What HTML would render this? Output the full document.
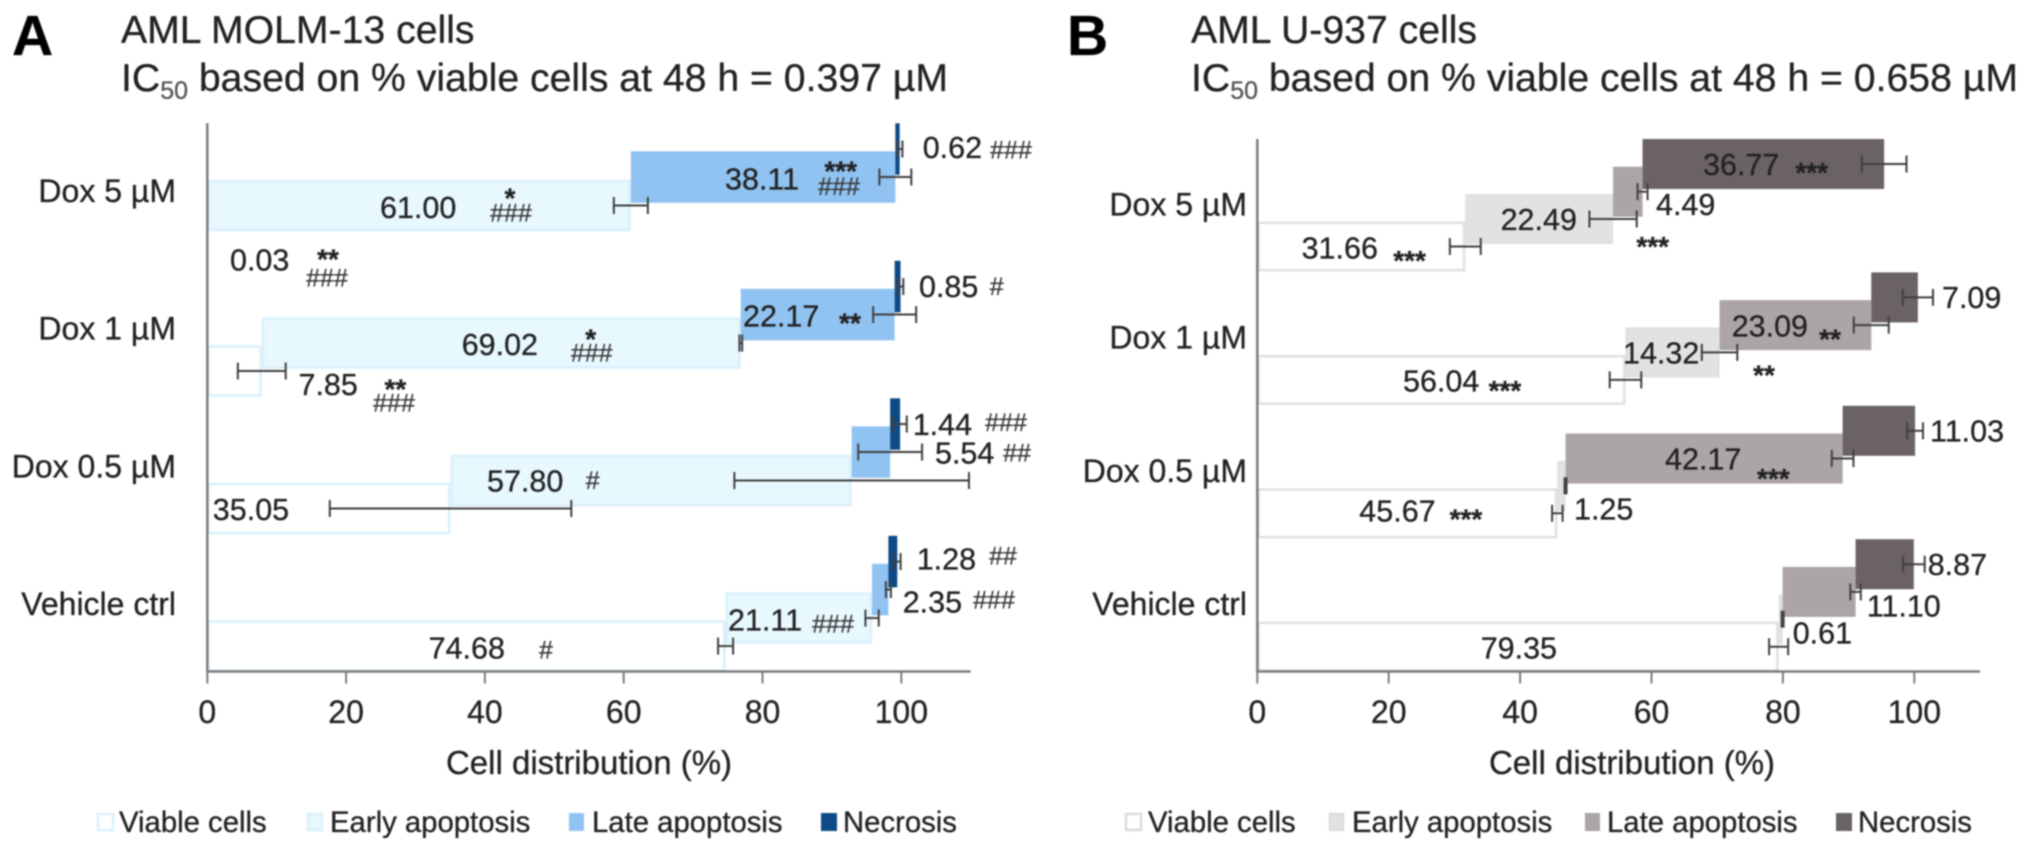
<!DOCTYPE html>
<html lang="en">
<head>
<meta charset="utf-8">
<title>AML cell distribution after Dox treatment</title>
<style>
html,body{margin:0;padding:0;background:#fff;width:2031px;height:854px;overflow:hidden}
svg{display:block;filter:blur(.7px)}
text{font-family:"Liberation Sans",Arial,sans-serif;fill:#222;stroke:#222;stroke-width:.3px}
</style>
</head>
<body>
<svg id="chart" xmlns="http://www.w3.org/2000/svg" width="2031" height="854" viewBox="0 0 2031 854">
  <rect width="2031" height="854" fill="#fff"/>

  <text x="12" y="55" font-size="57" font-weight="bold" style="fill:#000">A</text>
  <text x="121" y="43" font-size="39.2">AML MOLM-13 cells</text>
  <text x="121" y="91" font-size="39.2">IC<tspan font-size="25" dy="8" style="fill:#555;stroke:#555">50</tspan><tspan dy="-8"> based on % viable cells at 48 h = 0.397 µM</tspan></text>

  <text x="1067" y="55" font-size="57" font-weight="bold" style="fill:#000">B</text>
  <text x="1191" y="43" font-size="39.2">AML U-937 cells</text>
  <text x="1191" y="91" font-size="39.2">IC<tspan font-size="25" dy="8" style="fill:#555;stroke:#555">50</tspan><tspan dy="-8"> based on % viable cells at 48 h = 0.658 µM</tspan></text>

  <text x="589" y="774" font-size="33" text-anchor="middle">Cell distribution (%)</text>
  <text x="1632" y="774" font-size="33" text-anchor="middle">Cell distribution (%)</text>

  <g font-size="29.3">
    <g><rect x="98" y="814" width="15" height="16" fill="#fff" stroke="#daf0fc" stroke-width="2.5"/><text x="119" y="832">Viable cells</text></g>
    <g><rect x="308" y="814" width="14" height="16" fill="#e7f8fe" stroke="#daf0fc" stroke-width="2.5"/><text x="330" y="832">Early apoptosis</text></g>
    <g><rect x="569" y="813" width="15" height="18" fill="#90c3f2"/><text x="592" y="832">Late apoptosis</text></g>
    <g><rect x="821" y="813" width="16" height="18" fill="#0e4a88"/><text x="843" y="832">Necrosis</text></g>
  </g>
  <g font-size="29.3">
    <g><rect x="1126" y="814" width="15" height="16" fill="#fff" stroke="#dcdcdc" stroke-width="2.5"/><text x="1148" y="832">Viable cells</text></g>
    <g><rect x="1330" y="814" width="13" height="16" fill="#e2e2e2" stroke="#dcdcdc" stroke-width="2.5"/><text x="1352" y="832">Early apoptosis</text></g>
    <g><rect x="1585" y="813" width="15" height="18" fill="#aca5a5"/><text x="1607" y="832">Late apoptosis</text></g>
    <g><rect x="1836" y="813" width="16" height="18" fill="#6b6363"/><text x="1858" y="832">Necrosis</text></g>
  </g>
</svg>
<script>
const categories = ['Dox 5 µM', 'Dox 1 µM', 'Dox 0.5 µM', 'Vehicle ctrl'];
const seriesNames = ['viable', 'early-apoptosis', 'late-apoptosis', 'necrosis'];
const tickValues = [0, 20, 40, 60, 80, 100];
const axisMax = 110;

// Panel A: AML MOLM-13 cells (% of cells)
const viableA = [0.03, 7.85, 35.05, 74.68];
const earlyA = [61.00, 69.02, 57.80, 21.11];
const lateA = [38.11, 22.17, 5.54, 2.35];
const necrosisA = [0.62, 0.85, 1.44, 1.28];
const viableErrA = [0, 3.45, 17.4, 1.08];
const earlyErrA = [2.45, 0.2, 16.9, 0.96];
const lateErrA = [2.3, 3.1, 4.6, 0.36];
const necrosisErrA = [0.4, 0.4, 0.96, 0.48];

// Panel B: AML U-937 cells (% of cells)
const viableB = [31.66, 56.04, 45.67, 79.35];
const earlyB = [22.49, 14.32, 1.25, 0.61];
const lateB = [4.49, 23.09, 42.17, 11.10];
const necrosisB = [36.77, 7.09, 11.03, 8.87];
const viableErrB = [2.35, 2.4, 0.8, 1.45];
const earlyErrB = [3.6, 2.7, 0.15, 0.15];
const lateErrB = [0.76, 2.66, 1.65, 0.8];
const necrosisErrB = [3.4, 2.3, 1.2, 1.65];

const SVGNS = 'http://www.w3.org/2000/svg';
const svg = document.getElementById('chart');

function make(tag, attrs, parent) {
  const el = document.createElementNS(SVGNS, tag);
  for (const k in attrs) el.setAttribute(k, attrs[k]);
  (parent || svg).appendChild(el);
  return el;
}

function drawPanel(p) {
  const x = v => p.x0 + p.k * v;
  const bandY = c => p.top + p.pitch * c;
  const root = make('g', {});
  
  

  categories.forEach((cat, c) => {
    let cum = 0;
    p.series.forEach((vals, s) => {
      const v = vals[c];
      const y = bandY(c) + p.offsets[3 - s];
      const stroke = p.strokes[s];
      const sw = stroke ? 2.5 : 0;
      const bar = make('rect', {
        x: x(cum) + sw / 2,
        y: y + sw / 2,
        width: Math.max(0, x(cum + v) - x(cum) - sw),
        height: p.height - sw,
        fill: p.fills[s],
        stroke: stroke || 'none',
        'stroke-width': sw
      }, root);
      
      
      cum += v;
    });
  });

  categories.forEach((cat, c) => {
    let cum = 0;
    p.series.forEach((vals, s) => {
      cum += vals[c];
      const e = p.errors[s][c];
      if (e <= 0) return;
      const y = bandY(c) + p.offsets[3 - s] + p.height / 2;
      const g = make('g', { stroke: '#3f3f3f', 'stroke-width': 2, fill: 'none' }, root);
      
      
      make('line', { x1: x(cum - e), x2: x(cum + e), y1: y, y2: y }, g);
      make('line', { x1: x(cum - e), x2: x(cum - e), y1: y - 8.5, y2: y + 8.5 }, g);
      make('line', { x1: x(cum + e), x2: x(cum + e), y1: y - 8.5, y2: y + 8.5 }, g);
    });
  });

  const yAxis = make('line', { x1: p.x0, x2: p.x0, y1: p.top, y2: p.bottom + 1, stroke: '#7c7c7c', 'stroke-width': 2.5 }, root);
  
  
  const xAxis = make('line', { x1: p.x0, x2: x(axisMax), y1: p.bottom, y2: p.bottom, stroke: '#7c7c7c', 'stroke-width': 2.5 }, root);
  
  

  tickValues.forEach(t => {
    const tick = make('line', { x1: x(t), x2: x(t), y1: p.bottom, y2: p.bottom + 12, stroke: '#7c7c7c', 'stroke-width': 2 }, root);
    
    
    const lab = make('text', { x: x(t), y: 723, 'font-size': 32, 'text-anchor': 'middle' }, root);
    
    
    lab.textContent = t;
  });

  categories.forEach((cat, c) => {
    const lab = make('text', { x: p.catRight, y: p.catBase + p.catPitch * c, 'font-size': 32, 'text-anchor': 'end' }, root);
    
    
    lab.textContent = cat;
  });
  return root;
}

const panelA = {
  id: 'panel-a', x0: 207.3, k: 6.94, top: 123.3, bottom: 671.5, pitch: 137.5,
  height: 51.5, offsets: [0, 28, 56.5, 84.5],
  series: [viableA, earlyA, lateA, necrosisA],
  errors: [viableErrA, earlyErrA, lateErrA, necrosisErrA],
  fills: ['#ffffff', '#e7f8fe', '#90c3f2', '#0e4a88'],
  strokes: ['#daf0fc', '#daf0fc', null, null],
  catRight: 176, catBase: 202, catPitch: 137.7
};
const panelB = {
  id: 'panel-b', x0: 1257.3, k: 6.57, top: 139, bottom: 671.5, pitch: 133.4,
  height: 50, offsets: [0, 27.7, 55, 82.5],
  series: [viableB, earlyB, lateB, necrosisB],
  errors: [viableErrB, earlyErrB, lateErrB, necrosisErrB],
  fills: ['#ffffff', '#e2e2e2', '#aca5a5', '#6b6363'],
  strokes: ['#e0e0e0', '#e0e0e0', null, null],
  catRight: 1247, catBase: 215.3, catPitch: 133.3
};
const rootA = drawPanel(panelA);
const rootB = drawPanel(panelB);

function valueLabel(root, p, s, c, px, py) {
  const t = make('text', { x: px, y: py, 'font-size': 30.5 }, root);
  
  
  t.textContent = p.series[s][c].toFixed(2);
}
function stars(root, p, str, cx, cy) {
  const t = make('text', { x: cx, y: cy + 15.5, 'font-size': 28, 'text-anchor': 'middle', 'font-weight': 'bold' }, root);
  
  
  t.textContent = str;
}
function hashes(root, p, str, cx, cy) {
  const t = make('text', { x: cx, y: cy + 8.5, 'font-size': 25, 'text-anchor': 'middle', style: 'fill:#3a3a3a;stroke:#3a3a3a' }, root);
  
  
  t.textContent = str;
}

// Panel A labels
valueLabel(rootA, panelA, 0, 0, 230, 270.7);
stars(rootA, panelA, '**', 328, 253);
hashes(rootA, panelA, '###', 327, 278);
valueLabel(rootA, panelA, 1, 0, 380, 218);
stars(rootA, panelA, '*', 510, 192);
hashes(rootA, panelA, '###', 511, 213);
valueLabel(rootA, panelA, 2, 0, 725, 189.3);
stars(rootA, panelA, '***', 840.7, 165);
hashes(rootA, panelA, '###', 839, 186.7);
valueLabel(rootA, panelA, 3, 0, 922.7, 158);
hashes(rootA, panelA, '###', 1011, 150);

valueLabel(rootA, panelA, 0, 1, 298.5, 395);
stars(rootA, panelA, '**', 395.4, 383);
hashes(rootA, panelA, '###', 394, 403);
valueLabel(rootA, panelA, 1, 1, 461.7, 355);
stars(rootA, panelA, '*', 590.7, 333);
hashes(rootA, panelA, '###', 591.7, 353);
valueLabel(rootA, panelA, 2, 1, 743, 326.7);
stars(rootA, panelA, '**', 850, 317);
valueLabel(rootA, panelA, 3, 1, 919, 297);
hashes(rootA, panelA, '#', 996.7, 286.7);

valueLabel(rootA, panelA, 0, 2, 212.8, 520);
valueLabel(rootA, panelA, 1, 2, 487, 491.7);
hashes(rootA, panelA, '#', 592.7, 480.7);
valueLabel(rootA, panelA, 2, 2, 935, 463.3);
hashes(rootA, panelA, '##', 1017, 453);
valueLabel(rootA, panelA, 3, 2, 912.7, 435);
hashes(rootA, panelA, '###', 1006, 422.7);

valueLabel(rootA, panelA, 0, 3, 428.6, 658.3);
hashes(rootA, panelA, '#', 546, 650);
valueLabel(rootA, panelA, 1, 3, 728, 630.7);
hashes(rootA, panelA, '###', 833, 624);
valueLabel(rootA, panelA, 2, 3, 902.7, 612.7);
hashes(rootA, panelA, '###', 994, 600);
valueLabel(rootA, panelA, 3, 3, 916.7, 569.3);
hashes(rootA, panelA, '##', 1003, 556);

// Panel B labels
valueLabel(rootB, panelB, 0, 0, 1301.6, 258.3);
stars(rootB, panelB, '***', 1409.6, 254.5);
valueLabel(rootB, panelB, 1, 0, 1500.6, 230);
stars(rootB, panelB, '***', 1652.7, 240.7);
valueLabel(rootB, panelB, 2, 0, 1656, 215);
valueLabel(rootB, panelB, 3, 0, 1703, 175);
stars(rootB, panelB, '***', 1811.7, 166.7);

valueLabel(rootB, panelB, 0, 1, 1403, 391.7);
stars(rootB, panelB, '***', 1505, 384.3);
valueLabel(rootB, panelB, 1, 1, 1623, 363.3);
stars(rootB, panelB, '**', 1764, 369);
valueLabel(rootB, panelB, 2, 1, 1731.7, 336.7);
stars(rootB, panelB, '**', 1830, 333);
valueLabel(rootB, panelB, 3, 1, 1942, 308);

valueLabel(rootB, panelB, 0, 2, 1359.3, 521.7);
stars(rootB, panelB, '***', 1466, 513);
valueLabel(rootB, panelB, 1, 2, 1574, 519.3);
valueLabel(rootB, panelB, 2, 2, 1665, 469.3);
stars(rootB, panelB, '***', 1773.3, 472.7);
valueLabel(rootB, panelB, 3, 2, 1930, 441.7);

valueLabel(rootB, panelB, 0, 3, 1480.7, 658.3);
valueLabel(rootB, panelB, 1, 3, 1792.7, 643.3);
valueLabel(rootB, panelB, 2, 3, 1866.7, 616.7);
valueLabel(rootB, panelB, 3, 3, 1927.7, 575);
</script>
</body>
</html>
